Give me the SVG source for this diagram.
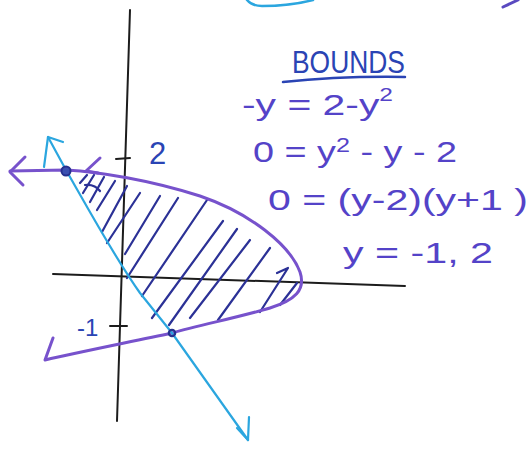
<svg xmlns="http://www.w3.org/2000/svg" width="532" height="454" viewBox="0 0 532 454">
<style>
.ax{fill:none;stroke:#1c1c1c;stroke-width:2;stroke-linecap:round}
.par{fill:none;stroke:#7752cc;stroke-width:3;stroke-linecap:round;stroke-linejoin:round}
.ln{fill:none;stroke:#2ba6df;stroke-width:2.2;stroke-linecap:round;stroke-linejoin:round}
.hat{fill:none;stroke:#2b3196;stroke-width:2.2;stroke-linecap:round;stroke-linejoin:round}
.eq{font-family:"Liberation Sans",Arial,sans-serif;fill:#5443c8;font-size:30px}
.lbl{font-family:"Liberation Sans",Arial,sans-serif;fill:#2a44b4}
</style>
<rect width="532" height="454" fill="#ffffff"/>
<g id="top-fragments">
<path d="M247,0 Q252,6 262,6 Q290,6 313,0" fill="none" stroke="#2ba6df" stroke-width="2.5" stroke-linecap="round"/>
<path d="M503,7 L518,0" fill="none" stroke="#5a4ac0" stroke-width="3" stroke-linecap="round"/>
</g>
<g id="axes">
<path class="ax" d="M130,10 L117,421"/>
<path class="ax" d="M53,274 L405,286"/>
<path class="ax" d="M116,159 L130,158" stroke="#2a44b4"/>
<path class="ax" d="M110,326 L127,326" stroke="#2a44b4"/>
<text class="lbl" x="149" y="164" font-size="31">2</text>
<text class="lbl" x="77" y="336" font-size="24">-1</text>
</g>
<g id="hatching">
<path class="hat" d="M80,183 L87,175"/>
<path class="hat" d="M83,193 L94,175"/>
<path class="hat" d="M90,202 L104,177"/>
<path class="hat" d="M85,185 Q95,184 100,191"/>
<path class="hat" d="M97,210 L115,181"/>
<path class="hat" d="M102,232 L127,186"/>
<path class="hat" d="M107,243 L140,193"/>
<path class="hat" d="M125,254 L160,196"/>
<path class="hat" d="M127,278 L178,198"/>
<path class="hat" d="M142,296 L207,200"/>
<path class="hat" d="M152,318 L223,221"/>
<path class="hat" d="M169,325 L237,229"/>
<path class="hat" d="M190,318 L250,240"/>
<path class="hat" d="M218,320 L270,248"/>
<path class="hat" d="M277,273 L288,268 L260,312"/>
<path class="hat" d="M280,305 L297,283"/>
</g>
<g id="parabola">
<path class="par" d="M10,171 L66,170 C100,172 150,180 200,196 C250,213 290,245 300,272 C306,290 295,300 270,308 C240,317 200,325 172,333 C130,342 80,352 45,360 L53,338"/>
<path class="par" d="M25,157 L10,172 L23,185"/>
<path class="par" d="M100,158 L86,171 L98,173"/>
</g>
<g id="line">
<path class="ln" d="M48,137 L66,170 C90,212 115,258 140,293 L172,333 L248,440"/>
<path class="ln" d="M44,167 L48,137 L63,142"/>
<path class="ln" d="M237,428 L248,440 L249,417"/>
</g>
<g id="intersections">
<circle cx="66" cy="171" r="4.5" fill="#3a4fb0" stroke="#25318f" stroke-width="2"/>
<circle cx="172" cy="333" r="3.2" fill="none" stroke="#25318f" stroke-width="2.2"/>
</g>
<g id="bounds">
<text class="lbl" x="292" y="73" font-size="31" textLength="113" lengthAdjust="spacingAndGlyphs">BOUNDS</text>
<path d="M283,82 Q340,76 405,77" fill="none" stroke="#2a44b4" stroke-width="2.5" stroke-linecap="round"/>
<text class="eq" x="242" y="115" textLength="151" lengthAdjust="spacingAndGlyphs">-y = 2-y<tspan dy="-14" font-size="18">2</tspan></text>
<text class="eq" x="253" y="162" textLength="204" lengthAdjust="spacingAndGlyphs">0 = y<tspan dy="-10" font-size="20">2</tspan><tspan dy="10"> - y - 2</tspan></text>
<text class="eq" x="268" y="210" textLength="260" lengthAdjust="spacingAndGlyphs">0 = (y-2)(y+1 )</text>
<text class="eq" x="343" y="263" textLength="150" lengthAdjust="spacingAndGlyphs">y = -1, 2</text>
</g>
</svg>
